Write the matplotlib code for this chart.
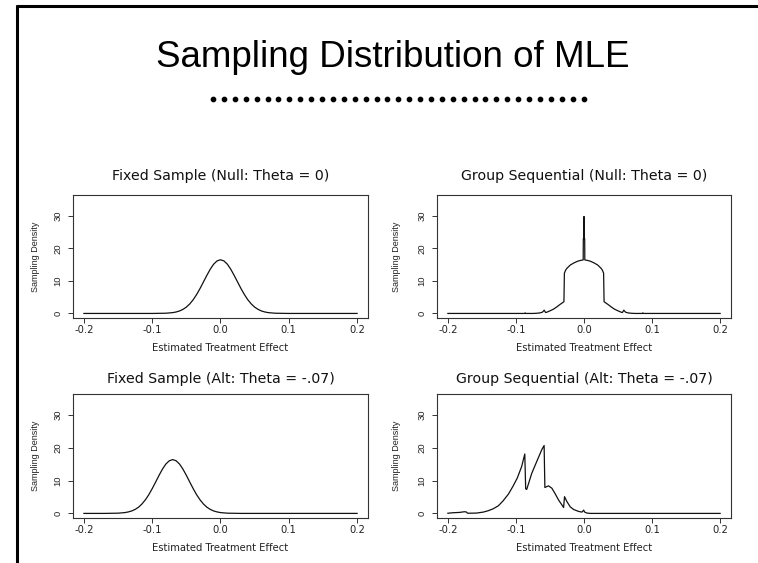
import matplotlib
matplotlib.use("Agg")
import matplotlib.pyplot as plt
from matplotlib.lines import Line2D

W, H = 758, 563

# ---------------- data ----------------
main_title = "Sampling Distribution of MLE"
panel_titles = ["Fixed Sample (Null: Theta = 0)", "Group Sequential (Null: Theta = 0)",
                "Fixed Sample (Alt: Theta = -.07)", "Group Sequential (Alt: Theta = -.07)"]
x_label = "Estimated Treatment Effect"
y_label = "Sampling Density"
x_ticks = [-0.2, -0.1, 0.0, 0.1, 0.2]
x_tick_labels = ["-0.2", "-0.1", "0.0", "0.1", "0.2"]
y_ticks = [0, 10, 20, 30]
y_tick_labels = ["0", "10", "20", "30"]

fixed_null_x = [-0.20, -0.10, -0.08, -0.07, -0.065, -0.06, -0.055, -0.05, -0.045, -0.04,
                -0.035, -0.03, -0.025, -0.02, -0.015, -0.01, -0.005, 0.0, 0.005, 0.01,
                0.015, 0.02, 0.025, 0.03, 0.035, 0.04, 0.045, 0.05, 0.055, 0.06,
                0.065, 0.07, 0.08, 0.10, 0.20]
fixed_null_y = [0.0, 0.0, 0.07, 0.25, 0.45, 0.76, 1.25, 1.95, 2.93, 4.21,
                5.8, 7.65, 9.67, 11.7, 13.6, 15.15, 16.15, 16.5, 16.15, 15.15,
                13.6, 11.7, 9.67, 7.65, 5.8, 4.21, 2.93, 1.95, 1.25, 0.76,
                0.45, 0.25, 0.07, 0.0, 0.0]

fixed_alt_x = [-0.20, -0.17, -0.15, -0.14, -0.135, -0.13, -0.125, -0.12, -0.115, -0.11,
               -0.105, -0.10, -0.095, -0.09, -0.085, -0.08, -0.075, -0.07, -0.065, -0.06,
               -0.055, -0.05, -0.045, -0.04, -0.035, -0.03, -0.025, -0.02, -0.015, -0.01,
               -0.005, 0.0, 0.01, 0.03, 0.20]
fixed_alt_y = [0.0, 0.0, 0.07, 0.25, 0.45, 0.75, 1.22, 1.9, 2.88, 4.15,
               5.7, 7.55, 9.55, 11.6, 13.5, 15.05, 16.05, 16.4, 16.05, 15.05,
               13.5, 11.6, 9.55, 7.55, 5.7, 4.15, 2.88, 1.9, 1.22, 0.75,
               0.45, 0.25, 0.07, 0.0, 0.0]

gs_null_x = [-0.20, -0.087, -0.0865, -0.086, -0.075, -0.07, -0.065, -0.061, -0.0585, -0.0565,
             -0.055, -0.05, -0.045, -0.04, -0.035, -0.0295, -0.0288, -0.027, -0.025, -0.02,
             -0.015, -0.01, -0.005, -0.0012, -0.001, -0.0004, 0.0, 0.0004, 0.001, 0.0012,
             0.005, 0.01, 0.015, 0.02, 0.025, 0.027, 0.0288, 0.0295, 0.035, 0.04,
             0.045, 0.05, 0.055, 0.0565, 0.0585, 0.061, 0.065, 0.07, 0.075, 0.086,
             0.0865, 0.087, 0.20]
gs_null_y = [0.0, 0.0, 0.2, 0.0, 0.0, 0.05, 0.15, 0.4, 1.0, 0.3,
             0.35, 0.8, 1.3, 2.0, 2.8, 3.6, 12.4, 13.3, 13.9, 14.9,
             15.5, 16.0, 16.3, 16.45, 23.0, 23.0, 29.8, 23.0, 23.0, 16.45,
             16.3, 16.0, 15.5, 14.9, 13.9, 13.3, 12.4, 3.6, 2.8, 2.0,
             1.3, 0.8, 0.35, 0.3, 1.0, 0.4, 0.15, 0.05, 0.0, 0.0,
             0.2, 0.0, 0.0]

gs_alt_x = [-0.200, -0.193, -0.183, -0.176, -0.173, -0.171, -0.158, -0.148, -0.141, -0.1335,
            -0.126, -0.119, -0.111, -0.104, -0.098, -0.0916, -0.087, -0.0857, -0.0842, -0.0768,
            -0.0695, -0.0621, -0.0586, -0.0575, -0.0522, -0.0473, -0.0424, -0.0374, -0.0325, -0.0300,
            -0.0286, -0.0251, -0.0202, -0.0153, -0.0079, -0.003, -0.0005, 0.001, 0.0044, 0.0094,
            0.200]
gs_alt_y = [0.05, 0.2, 0.3, 0.5, 0.45, 0.05, 0.1, 0.4, 0.8, 1.4,
            2.3, 3.8, 5.9, 8.4, 10.8, 14.3, 18.1, 7.5, 7.3, 12.2,
            15.8, 19.4, 20.7, 7.9, 8.4, 7.7, 6.0, 4.1, 2.6, 1.8,
            5.1, 3.6, 2.0, 1.2, 0.6, 0.4, 1.0, 0.4, 0.1, 0.0,
            0.0]

series = [(fixed_null_x, fixed_null_y), (gs_null_x, gs_null_y),
          (fixed_alt_x, fixed_alt_y), (gs_alt_x, gs_alt_y)]

# ---------------- layout ----------------
plt.rcParams['font.family'] = ['Liberation Sans', 'DejaVu Sans']
NARROW = ['Liberation Sans Narrow', 'Liberation Sans', 'DejaVu Sans']
WIDE = ['DejaVu Sans']

fig = plt.figure(figsize=(W / 100, H / 100), dpi=100)
fig.patch.set_facecolor('white')

def fx(px):
    return px / W

def fy(py):
    return 1 - py / H

# pixel boxes: left, right, top, bottom  (order: TL, TR, BL, BR)
boxes = [(73, 368, 195, 318), (437, 731, 195, 318),
         (73, 368, 394, 518), (437, 731, 394, 518)]
title_y = [176, 176, 379, 379]
ylabel_x = [35, 396, 35, 396]

for i, ((l, r, t, b), (xs, ys)) in enumerate(zip(boxes, series)):
    ax = fig.add_axes([fx(l), fy(b), (r - l) / W, (b - t) / H])
    ax.plot(xs, ys, color='#111111', lw=0.9)
    ax.set_xlim(-0.216, 0.216)
    ax.set_ylim(-1.4, 36.4)
    ax.set_xticks(x_ticks)
    ax.set_xticklabels(x_tick_labels, fontsize=7.2, color='#222222', family=WIDE)
    ax.set_yticks(y_ticks)
    ax.set_yticklabels(y_tick_labels, fontsize=6.8, color='#222222',
                       rotation=90, va='center', family=NARROW)
    ax.tick_params(axis='x', direction='out', length=3.5, width=0.7, pad=1.5, color='#333333')
    ax.tick_params(axis='y', direction='out', length=3.5, width=0.7, pad=4, color='#333333')
    for s in ax.spines.values():
        s.set_linewidth(0.8)
        s.set_color('#333333')
    cx = (l + r) / 2
    fig.text(fx(cx), fy(title_y[i]), panel_titles[i], ha='center', va='center',
             fontsize=10.2, color='#111111', family=WIDE)
    fig.text(fx(cx), fy(b + 30), x_label, ha='center', va='center',
             fontsize=7.2, color='#222222', family=WIDE)
    fig.text(fx(ylabel_x[i]), fy((t + b) / 2), y_label, ha='center', va='center',
             rotation=90, fontsize=6.5, color='#222222', family=NARROW)

# main title and dotted rule
fig.text(fx(393), fy(67), main_title, ha='center', va='baseline', fontsize=26.5, color='black')
n_dots = 35
dot_x = [fx(213 + 10.9 * k) for k in range(n_dots)]
fig.add_artist(Line2D(dot_x, [fy(99)] * n_dots, lw=0, marker='o', markersize=3.1,
                      color='black', transform=fig.transFigure))

# slide frame lines
fig.add_artist(Line2D([fx(17), fx(17)], [0, fy(5)], lw=2.2, color='black',
                      transform=fig.transFigure, solid_capstyle='butt'))
fig.add_artist(Line2D([fx(16), 1], [fy(6), fy(6)], lw=2.2, color='black',
                      transform=fig.transFigure, solid_capstyle='butt'))

fig.savefig('out.png', dpi=100, facecolor='white')
